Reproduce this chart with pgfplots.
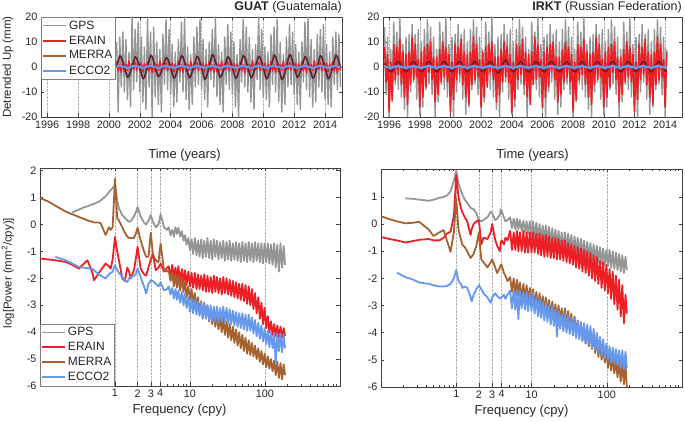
\documentclass[border=0pt]{standalone}
\usepackage{fontspec}
\setmainfont{Liberation Sans}
\usepackage{pgfplots}
\usepackage{pgfplotstable}
\pgfplotsset{compat=1.18}

\definecolor{cgps}{RGB}{148,150,150}
\definecolor{cera}{RGB}{236,32,36}
\definecolor{cmer}{RGB}{166,98,46}
\definecolor{cmerdk}{RGB}{98,32,48}
\definecolor{cecc}{RGB}{102,152,238}

% GUAT time series
\pgfplotstableread{
t gps era mer ecc
2000.5 10 2.2 0 0.2
2000.6 -18 -1.6 2.5 0.4
2000.7 12 1.0 4.5 0.5
2000.8 -8 -2.3 4.0 0.3
2000.9 14 1.5 2.0 0.1
2001.0 -10 -1.8 0 0.1
2001.1 11 1.1 -2.3 -0.2
2001.2 -13 -1.3 -4.1 -0.4
2001.3 6 2.4 -3.6 -0.3
2001.4 -16 -1.7 -1.8 0.0
2001.5 20 1.3 0 0.2
2001.6 -9 -1.0 2.3 0.4
2001.7 15 1.9 4.1 0.5
2001.8 -6 -1.5 3.6 0.3
2001.9 18 2.1 1.8 0.1
2002.0 -10 -1.4 0 0.1
2002.1 12 1.6 -2.6 -0.2
2002.2 -14 -2.0 -4.7 -0.4
2002.3 8 1.2 -4.2 -0.3
2002.4 -17 -1.1 -2.1 0.0
2002.5 20 2.2 0 0.2
2002.6 -8 -1.6 2.6 0.4
2002.7 14 1.0 4.7 0.5
2002.8 -20 -2.3 4.2 0.3
2002.9 16 1.5 2.1 0.1
2003.0 -12 -1.8 0 0.1
2003.1 10 1.1 -2.1 -0.2
2003.2 -15 -1.3 -3.8 -0.4
2003.3 7 2.4 -3.4 -0.3
2003.4 -18 -1.7 -1.7 0.0
2003.5 13 1.3 0 0.2
2003.6 -7 -1.0 2.1 0.4
2003.7 19 1.9 3.8 0.5
2003.8 -9 -1.5 3.4 0.3
2003.9 15 2.1 1.7 0.1
2004.0 -11 -1.4 0 0.1
2004.1 9 1.6 -2.5 -0.2
2004.2 -16 -2.0 -4.5 -0.4
2004.3 6 1.2 -4.0 -0.3
2004.4 -14 -1.1 -2.0 0.0
2004.5 11 2.2 0 0.2
2004.6 -6 -1.6 2.5 0.4
2004.7 18 1.0 4.5 0.5
2004.8 -10 -2.3 4.0 0.3
2004.9 20 1.5 2.0 0.1
2005.0 -13 -1.8 0 0.1
2005.1 8 1.1 -2.4 -0.2
2005.2 -17 -1.3 -4.3 -0.4
2005.3 5 2.4 -3.8 -0.3
2005.4 -15 -1.7 -1.9 0.0
2005.5 12 1.3 0 0.2
2005.6 -8 -1.0 2.4 0.4
2005.7 16 1.9 4.3 0.5
2005.8 -7 -1.5 3.8 0.3
2005.9 19 2.1 1.9 0.1
2006.0 -9 -1.4 0 0.1
2006.1 11 1.6 -2.8 -0.2
2006.2 -13 -2.0 -5.0 -0.4
2006.3 7 1.2 -4.4 -0.3
2006.4 -16 -1.1 -2.2 0.0
2006.5 10 2.2 0 0.2
2006.6 -5 -1.6 2.8 0.4
2006.7 15 1.0 5.0 0.5
2006.8 -8 -2.3 4.4 0.3
2006.9 20 1.5 2.2 0.1
2007.0 -12 -1.8 0 0.1
2007.1 9 1.1 -2.3 -0.2
2007.2 -15 -1.3 -4.1 -0.4
2007.3 6 2.4 -3.6 -0.3
2007.4 -18 -1.7 -1.8 0.0
2007.5 12 1.3 0 0.2
2007.6 -7 -1.0 2.3 0.4
2007.7 17 1.9 4.1 0.5
2007.8 -9 -1.5 3.6 0.3
2007.9 14 2.1 1.8 0.1
2008.0 -11 -1.4 0 0.1
2008.1 10 1.6 -2.5 -0.2
2008.2 -16 -2.0 -4.5 -0.4
2008.3 5 1.2 -4.0 -0.3
2008.4 -20 -1.1 -2.0 0.0
2008.5 11 2.2 0 0.2
2008.6 -6 -1.6 2.5 0.4
2008.7 19 1.0 4.5 0.5
2008.8 -8 -2.3 4.0 0.3
2008.9 16 1.5 2.0 0.1
2009.0 -10 -1.8 0 0.1
2009.1 12 1.1 -2.4 -0.2
2009.2 -14 -1.3 -4.3 -0.4
2009.3 7 2.4 -3.8 -0.3
2009.4 -17 -1.7 -1.9 0.0
2009.5 9 1.3 0 0.2
2009.6 -5 -1.0 2.4 0.4
2009.7 20 1.9 4.3 0.5
2009.8 -9 -1.5 3.8 0.3
2009.9 15 2.1 1.9 0.1
2010.0 -12 -1.4 0 0.1
2010.1 8 1.6 -2.6 -0.2
2010.2 -13 -2.0 -4.7 -0.4
2010.3 6 1.2 -4.2 -0.3
2010.4 -16 -1.1 -2.1 0.0
2010.5 13 2.2 0 0.2
2010.6 -7 -1.6 2.6 0.4
2010.7 16 1.0 4.7 0.5
2010.8 -10 -2.3 4.2 0.3
2010.9 19 1.5 2.1 0.1
2011.0 -14 -1.8 0 0.1
2011.1 10 1.1 -2.8 -0.2
2011.2 -18 -1.3 -5.0 -0.4
2011.3 5 2.4 -4.4 -0.3
2011.4 -15 -1.7 -2.2 0.0
2011.5 12 1.3 0 0.2
2011.6 -8 -1.0 2.8 0.4
2011.7 17 1.9 5.0 0.5
2011.8 -7 -1.5 4.4 0.3
2011.9 14 2.1 2.2 0.1
2012.0 -11 -1.4 0 0.1
2012.1 9 1.6 -2.3 -0.2
2012.2 -15 -2.0 -4.1 -0.4
2012.3 6 1.2 -3.6 -0.3
2012.4 -17 -1.1 -1.8 0.0
2012.5 10 2.2 0 0.2
2012.6 -6 -1.6 2.3 0.4
2012.7 18 1.0 4.1 0.5
2012.8 -9 -2.3 3.6 0.3
2012.9 20 1.5 1.8 0.1
2013.0 -12 -1.8 0 0.1
2013.1 11 1.1 -2.5 -0.2
2013.2 -16 -1.3 -4.5 -0.4
2013.3 7 2.4 -4.0 -0.3
2013.4 -14 -1.7 -2.0 0.0
2013.5 13 1.3 0 0.2
2013.6 -8 -1.0 2.5 0.4
2013.7 15 1.9 4.5 0.5
2013.8 -10 -1.5 4.0 0.3
2013.9 17 2.1 2.0 0.1
2014.0 -13 -1.4 0 0.1
2014.1 9 1.6 -2.6 -0.2
2014.2 -15 -2.0 -4.7 -0.4
2014.3 6 1.2 -4.2 -0.3
2014.4 -16 -1.1 -2.1 0.0
2014.5 12 2.2 0 0.2
2014.6 -7 -1.6 2.6 0.4
2014.7 14 1.0 4.7 0.5
2014.8 -9 -2.3 4.2 0.3
2014.9 13 1.5 2.1 0.1
2015.0 -8 -1.4 0 0.1
}\tabTL

% IRKT time series
\pgfplotstableread{
t gps era mer ecc
1995.7 16 8 1.5 0.2
1995.8 -11 -6 0.5 0.1
1995.9 12 5 -0.5 -0.1
1996.0 -20 -18 -1.5 -0.2
1996.1 7 2 -2.0 -0.3
1996.2 -14 -13 -1.5 -0.2
1996.3 18 9 -0.5 0
1996.4 -7 -5 0.8 0.2
1996.5 14 8 1.8 0.3
1996.6 -9 -3 2.2 0.3
1996.7 20 11 1.5 0.2
1996.8 -12 -7 0.5 0.1
1996.9 9 6 -0.5 -0.1
1997.0 -17 -12 -1.5 -0.2
1997.1 12 5 -2.0 -0.3
1997.2 -20 -15 -1.5 -0.2
1997.3 13 6 -0.5 0
1997.4 -10 -7 0.8 0.2
1997.5 17 12 1.8 0.3
1997.6 -6 -5 2.2 0.3
1997.7 13 9 1.5 0.2
1997.8 -13 -4 0.5 0.1
1997.9 15 3 -0.5 -0.1
1998.0 -19 -16 -1.5 -0.2
1998.1 10 6 -2.0 -0.3
1998.2 -16 -12 -1.5 -0.2
1998.3 15 8 -0.5 0
1998.4 -9 -8 0.8 0.2
1998.5 19 9 1.8 0.3
1998.6 -7 -2 2.2 0.3
1998.7 16 10 1.5 0.2
1998.8 -11 -5 0.5 0.1
1998.9 12 4 -0.5 -0.1
1999.0 -20 -14 -1.5 -0.2
1999.1 7 4 -2.0 -0.3
1999.2 -14 -11 -1.5 -0.2
1999.3 18 7 -0.5 0
1999.4 -7 -6 0.8 0.2
1999.5 14 10 1.8 0.3
1999.6 -9 -4 2.2 0.3
1999.7 20 8 1.5 0.2
1999.8 -12 -6 0.5 0.1
1999.9 9 5 -0.5 -0.1
2000.0 -17 -18 -1.5 -0.2
2000.1 12 2 -2.0 -0.3
2000.2 -20 -13 -1.5 -0.2
2000.3 13 9 -0.5 0
2000.4 -10 -5 0.8 0.2
2000.5 17 8 1.8 0.3
2000.6 -6 -3 2.2 0.3
2000.7 13 11 1.5 0.2
2000.8 -13 -7 0.5 0.1
2000.9 15 6 -0.5 -0.1
2001.0 -19 -12 -1.5 -0.2
2001.1 10 5 -2.0 -0.3
2001.2 -16 -15 -1.5 -0.2
2001.3 15 6 -0.5 0
2001.4 -9 -7 0.8 0.2
2001.5 19 12 1.8 0.3
2001.6 -7 -5 2.2 0.3
2001.7 16 9 1.5 0.2
2001.8 -11 -4 0.5 0.1
2001.9 12 3 -0.5 -0.1
2002.0 -20 -16 -1.5 -0.2
2002.1 7 6 -2.0 -0.3
2002.2 -14 -12 -1.5 -0.2
2002.3 18 8 -0.5 0
2002.4 -7 -8 0.8 0.2
2002.5 14 9 1.8 0.3
2002.6 -9 -2 2.2 0.3
2002.7 20 10 1.5 0.2
2002.8 -12 -5 0.5 0.1
2002.9 9 4 -0.5 -0.1
2003.0 -17 -14 -1.8 -0.2
2003.1 12 4 -2.5 -0.3
2003.2 -20 -11 -1.8 -0.2
2003.3 13 7 -0.5 0
2003.4 -10 -6 1.0 0.2
2003.5 17 10 2.3 0.3
2003.6 -6 -4 2.8 0.3
2003.7 13 8 1.8 0.2
2003.8 -13 -6 0.5 0.1
2003.9 15 5 -0.5 -0.1
2004.0 -19 -18 -1.5 -0.2
2004.1 10 2 -2.0 -0.3
2004.2 -16 -13 -1.5 -0.2
2004.3 15 9 -0.5 0
2004.4 -9 -5 0.8 0.2
2004.5 19 8 1.8 0.3
2004.6 -7 -3 2.2 0.3
2004.7 16 11 1.5 0.2
2004.8 -11 -7 0.5 0.1
2004.9 12 6 -0.5 -0.1
2005.0 -20 -12 -1.5 -0.2
2005.1 7 5 -2.0 -0.3
2005.2 -14 -15 -1.5 -0.2
2005.3 18 6 -0.5 0
2005.4 -7 -7 0.8 0.2
2005.5 14 12 1.8 0.3
2005.6 -9 -5 2.2 0.3
2005.7 20 9 1.5 0.2
2005.8 -12 -4 0.5 0.1
2005.9 9 3 -0.5 -0.1
2006.0 -17 -16 -1.5 -0.2
2006.1 12 6 -2.0 -0.3
2006.2 -20 -12 -1.5 -0.2
2006.3 13 8 -0.5 0
2006.4 -10 -8 0.8 0.2
2006.5 17 9 1.8 0.3
2006.6 -6 -2 2.2 0.3
2006.7 13 10 1.5 0.2
2006.8 -13 -5 0.5 0.1
2006.9 15 4 -0.5 -0.1
2007.0 -19 -14 -1.5 -0.2
2007.1 10 4 -2.0 -0.3
2007.2 -16 -11 -1.5 -0.2
2007.3 15 7 -0.5 0
2007.4 -9 -6 0.8 0.2
2007.5 19 10 1.8 0.3
2007.6 -7 -4 2.2 0.3
2007.7 16 8 1.5 0.2
2007.8 -11 -6 0.5 0.1
2007.9 12 5 -0.5 -0.1
2008.0 -20 -18 -1.5 -0.2
2008.1 7 2 -2.0 -0.3
2008.2 -14 -13 -1.5 -0.2
2008.3 18 9 -0.5 0
2008.4 -7 -5 0.8 0.2
2008.5 14 8 1.8 0.3
2008.6 -9 -3 2.2 0.3
2008.7 20 11 1.5 0.2
2008.8 -12 -7 0.5 0.1
2008.9 9 6 -0.5 -0.1
2009.0 -17 -12 -1.5 -0.2
2009.1 12 5 -2.0 -0.3
2009.2 -20 -15 -1.5 -0.2
2009.3 13 6 -0.5 0
2009.4 -10 -7 0.8 0.2
2009.5 17 12 1.8 0.3
2009.6 -6 -5 2.2 0.3
2009.7 13 9 1.5 0.2
2009.8 -13 -4 0.5 0.1
2009.9 15 3 -0.5 -0.1
2010.0 -19 -16 -1.5 -0.2
2010.1 10 6 -2.0 -0.3
2010.2 -16 -12 -1.5 -0.2
2010.3 15 8 -0.5 0
2010.4 -9 -8 0.8 0.2
2010.5 19 9 1.8 0.3
2010.6 -7 -2 2.2 0.3
2010.7 16 10 1.5 0.2
2010.8 -11 -5 0.5 0.1
2010.9 12 4 -0.5 -0.1
2011.0 -20 -14 -1.5 -0.2
2011.1 7 4 -2.0 -0.3
2011.2 -14 -11 -1.5 -0.2
2011.3 18 7 -0.5 0
2011.4 -7 -6 0.8 0.2
2011.5 14 10 1.8 0.3
2011.6 -9 -4 2.2 0.3
2011.7 20 8 1.5 0.2
2011.8 -12 -6 0.5 0.1
2011.9 9 5 -0.5 -0.1
2012.0 -17 -18 -1.5 -0.2
2012.1 12 2 -2.0 -0.3
2012.2 -20 -13 -1.5 -0.2
2012.3 13 9 -0.5 0
2012.4 -10 -5 0.8 0.2
2012.5 17 8 1.8 0.3
2012.6 -6 -3 2.2 0.3
2012.7 13 11 1.5 0.2
2012.8 -13 -7 0.5 0.1
2012.9 15 6 -0.5 -0.1
2013.0 -19 -12 -1.5 -0.2
2013.1 10 5 -2.0 -0.3
2013.2 -16 -15 -1.5 -0.2
2013.3 15 6 -0.5 0
2013.4 -9 -7 0.8 0.2
2013.5 19 12 1.8 0.3
2013.6 -7 -5 2.2 0.3
2013.7 16 9 1.5 0.2
2013.8 -11 -4 0.5 0.1
2013.9 12 3 -0.5 -0.1
2014.0 -20 -16 -1.5 -0.2
2014.1 7 6 -2.0 -0.3
}\tabTR

% GUAT spectra
\pgfplotstableread{
f gps era mer ecc
0.097 nan -1.26 1.0 nan
0.13 nan -1.30 0.85 nan
0.16 nan -1.33 0.7 -1.2
0.22 nan -1.39 0.48 -1.33
0.27 0.45 -1.5 0.38 -1.45
0.33 0.55 -1.64 0.28 -1.58
0.37 0.62 -1.5 0.23 -1.6
0.43 0.68 -1.33 0.15 -1.62
0.5 0.75 -1.8 0.1 -1.65
0.525 0.77 -2.07 0.08 -1.7
0.61 0.85 -1.8 0.07 -1.85
0.645 0.9 -1.7 0.05 -1.9
0.75 1.05 -1.45 -0.39 -2.0
0.83 1.2 -1.55 -0.1 -1.85
0.876 1.28 -1.64 -0.2 -1.8
0.93 1.35 -1.3 -0.1 -1.75
1.0 1.48 -0.46 1.7 -1.51
1.07 0.9 -1.0 0.24 -1.7
1.13 0.6 -1.33 0.15 -1.8
1.25 0.35 -2.0 -0.1 -1.95
1.35 0.25 -2.1 -0.3 -2.05
1.46 0.15 -1.6 -0.45 -2.14
1.54 0.1 -1.75 -0.5 -2.0
1.62 0.12 -2.0 -0.5 -1.95
1.79 0.3 -1.7 -0.5 -1.9
1.89 0.45 -1.3 -0.35 -1.85
2.0 0.65 -0.83 -0.12 -1.64
2.2 0.3 -1.64 -0.6 -1.95
2.44 0.07 -1.85 -1.0 -2.3
2.6 0.0 -1.9 -1.2 -2.57
2.8 0.15 -1.6 -1.2 -2.2
3.0 0.35 -1.3 -0.3 -2.07
3.2 0.1 -1.1 -1.1 -2.1
3.5 -0.1 -1.7 -1.33 -2.2
3.8 0.0 -1.6 -1.4 -2.3
4.06 0.38 -1.45 -0.7 -2.15
4.5 -0.1 -1.75 -1.7 -2.45
4.97 -0.2 -1.6 -1.75 -2.4
5.2 -0.1 -1.55 -1.7 -2.3
5.5 -0.4 -1.95 -2.1 -2.6
5.8 -0.2 -1.5 -1.8 -2.35
6.1 -0.45 -2.0 -2.3 -2.75
6.4 -0.1 -1.6 -1.85 -2.4
6.7 -0.35 -2.05 -2.35 -2.8
7.0 -0.12 -1.55 -1.9 -2.45
7.4 -0.45 -2.1 -2.45 -2.9
7.8 -0.25 -1.65 -2.0 -2.5
8.2 -0.6 -2.15 -2.5 -3.0
8.6 -0.4 -1.7 -2.1 -2.55
9.0 -0.75 -2.25 -2.7 -3.1
9.5 -0.5 -1.75 -2.3 -2.7
10 -0.95 -2.3 -2.8 -3.25
10.5 -0.55 -1.8 -2.4 -2.75
11 -1.1 -2.35 -2.9 -3.3
11.6 -0.5 -1.8 -2.55 -2.8
12.2 -1.15 -2.4 -3.1 -3.35
12.8 -0.6 -1.85 -2.7 -2.85
13.4 -1.2 -2.4 -3.3 -3.4
14.1 -0.55 -1.9 -2.85 -2.9
14.8 -1.25 -2.45 -3.5 -3.45
15.5 -0.6 -1.85 -2.9 -2.95
16.3 -1.2 -2.5 -3.45 -3.5
17.1 -0.5 -1.9 -3.0 -3.0
18 -1.25 -2.5 -3.6 -3.55
18.9 -0.6 -1.95 -3.1 -3.0
19.8 -1.3 -2.55 -3.7 -3.6
20.8 -0.55 -1.9 -3.2 -3.05
21.8 -1.2 -2.5 -3.8 -3.6
22.9 -0.6 -1.95 -3.3 -3.05
24 -1.3 -2.55 -3.9 -3.65
25.2 -0.65 -2.0 -3.4 -3.1
26.5 -1.25 -2.6 -4.0 -3.6
27.8 -0.6 -1.95 -3.5 -3.05
29.2 -1.35 -2.55 -4.1 -3.65
30.7 -0.65 -2.0 -3.6 -3.1
32.2 -1.3 -2.6 -4.2 -3.7
33.8 -0.6 -2.05 -3.7 -3.15
35.5 -1.35 -2.65 -4.3 -3.7
37.3 -0.7 -2.1 -3.8 -3.2
39.1 -1.3 -2.7 -4.4 -3.75
41.1 -0.65 -2.15 -3.9 -3.25
43.1 -1.35 -2.75 -4.5 -3.8
45.3 -0.7 -2.2 -4.0 -3.3
47.5 -1.4 -2.8 -4.6 -3.85
49.9 -0.65 -2.2 -4.1 -3.3
52.4 -1.35 -2.85 -4.7 -3.9
55 -0.7 -2.25 -4.2 -3.35
57.8 -1.4 -2.95 -4.8 -3.95
60.7 -0.65 -2.3 -4.3 -3.35
63.7 -1.35 -3.0 -4.85 -3.95
66.9 -0.7 -2.4 -4.4 -3.45
70.2 -1.4 -3.15 -4.9 -4.05
73.7 -0.65 -2.55 -4.5 -3.55
77.4 -1.35 -3.3 -5.0 -4.15
81.3 -0.7 -2.7 -4.6 -3.65
85.4 -1.4 -3.5 -5.1 -4.25
89.6 -0.7 -2.9 -4.7 -3.75
94.1 -1.45 -3.7 -5.2 -4.35
98.8 -0.7 -3.1 -4.8 -3.85
103.8 -1.4 -3.85 -5.3 -4.45
109 -0.7 -3.4 -4.9 -3.95
114.4 -1.45 -4.0 -5.35 -4.55
120.1 -0.75 -3.6 -5.0 -4.0
126.1 -1.5 -4.1 -5.45 -4.6
132.4 -0.7 -3.7 -5.05 -4.05
139 -1.6 -4.15 -5.6 -5.2
146 -0.75 -3.75 -5.1 -4.05
153.3 -1.75 -4.2 -5.7 -4.7
161 -0.7 -3.8 -5.15 -4.05
169 -1.6 -4.2 -5.75 -4.75
177.5 -0.8 -3.85 -5.2 -4.1
185 -1.5 -4.15 -5.6 -4.6
}\tabBL

% IRKT spectra
\pgfplotstableread{
f gps era mer ecc
0.089 nan -0.44 0.34 nan
0.13 nan -0.55 0.18 nan
0.163 nan -0.6 0.1 -1.79
0.211 0.95 -0.68 0.03 -1.95
0.27 0.93 -0.62 0.05 -2.05
0.32 0.9 -0.58 0.09 -2.15
0.43 0.86 -0.55 -0.2 -2.2
0.5 0.9 -0.6 -0.44 -2.25
0.6 0.97 -0.6 -0.3 -2.3
0.68 1.0 -0.5 -0.22 -2.3
0.75 1.05 -0.35 -0.6 -2.28
0.84 1.2 -0.28 -1.02 -2.2
0.93 1.6 0.3 -0.3 -2.0
1.0 1.97 1.81 0.95 -1.69
1.07 1.5 1.0 -0.2 -2.1
1.15 1.26 0.6 -0.55 -2.2
1.2 1.1 0.45 -0.75 -2.35
1.3 0.9 0.25 -0.85 -2.3
1.4 0.78 0.09 -1.0 -2.35
1.55 0.6 -0.4 -1.25 -2.68
1.6 0.58 -0.2 -1.2 -2.85
1.7 0.55 0.0 -1.1 -2.6
1.85 0.4 0.1 -0.8 -2.4
2.0 0.15 0.15 -0.3 -2.25
2.15 0.1 -0.75 -1.3 -2.4
2.3 0.15 -0.5 -1.4 -2.55
2.6 0.25 -0.55 -1.6 -2.7
2.87 0.46 -0.3 -1.4 -2.9
3.0 0.4 0.0 -1.3 -2.7
3.3 0.15 -0.6 -1.6 -2.55
3.5 0.2 -0.8 -1.8 -2.65
3.8 0.35 -1.0 -1.6 -2.75
3.9 0.55 -0.7 -1.5 -2.7
4.0 0.5 -0.6 -1.5 -2.7
4.3 0.25 -0.75 -1.8 -2.6
4.5 0.1 -0.5 -1.9 -2.75
4.8 0.15 -0.6 -2.1 -2.6
5.2 0.25 -0.25 -1.95 -2.45
5.5 -0.15 -0.95 -2.5 -3.1
5.8 0.2 -0.3 -2.0 -2.45
6.1 -0.2 -0.95 -2.6 -3.15
6.4 0.2 -0.25 -2.05 -2.45
6.7 -0.2 -1.0 -2.65 -3.5
7.0 0.15 -0.3 -2.15 -2.45
7.4 -0.25 -1.0 -2.75 -3.1
7.8 0.12 -0.25 -2.2 -2.5
8.2 -0.3 -1.05 -2.8 -3.15
8.6 0.1 -0.3 -2.25 -2.5
9.0 -0.35 -1.05 -2.85 -3.2
9.5 0.1 -0.3 -2.35 -2.55
10 -0.45 -1.05 -2.95 -3.2
10.5 0.1 -0.3 -2.4 -2.55
11 -0.5 -1.05 -3.0 -3.3
11.6 0.05 -0.35 -2.5 -2.7
12.2 -0.55 -1.1 -3.1 -3.4
12.8 0.0 -0.35 -2.55 -2.75
13.4 -0.6 -1.15 -3.15 -3.45
14.1 -0.05 -0.4 -2.65 -2.85
14.8 -0.65 -1.2 -3.25 -3.55
15.5 -0.05 -0.4 -2.7 -2.9
16.3 -0.7 -1.2 -3.3 -3.6
17.1 -0.1 -0.45 -2.8 -3.0
18 -0.75 -1.25 -3.4 -3.7
18.9 -0.15 -0.5 -2.85 -3.05
19.8 -0.8 -1.25 -3.45 -3.75
20.8 -0.2 -0.5 -2.95 -3.15
21.8 -0.85 -1.3 -3.55 -4.15
22.9 -0.25 -0.55 -3.0 -3.2
24 -0.9 -1.3 -3.6 -3.85
25.2 -0.3 -0.6 -3.1 -3.3
26.5 -0.95 -1.35 -3.7 -3.95
27.8 -0.3 -0.6 -3.1 -3.3
29.2 -0.95 -1.4 -3.75 -4.0
30.7 -0.35 -0.7 -3.2 -3.4
32.2 -1.0 -1.45 -3.85 -4.05
33.8 -0.4 -0.75 -3.3 -3.45
35.5 -1.05 -1.5 -3.95 -4.1
37.3 -0.45 -0.8 -3.4 -3.5
39.1 -1.1 -1.6 -4.05 -4.2
41.1 -0.5 -0.85 -3.55 -3.55
43.1 -1.15 -1.65 -4.15 -4.25
45.3 -0.55 -0.9 -3.65 -3.6
47.5 -1.2 -1.75 -4.3 -4.3
49.9 -0.6 -0.95 -3.75 -3.65
52.4 -1.25 -1.8 -4.4 -4.4
55 -0.65 -1.0 -3.85 -3.7
57.8 -1.3 -1.9 -4.5 -4.45
60.7 -0.7 -1.05 -3.95 -3.75
63.7 -1.35 -2.0 -4.6 -4.55
66.9 -0.75 -1.15 -4.1 -3.85
70.2 -1.4 -2.1 -4.75 -4.65
73.7 -0.8 -1.2 -4.2 -4.0
77.4 -1.4 -2.2 -4.9 -4.75
81.3 -0.85 -1.35 -4.35 -4.15
85.4 -1.45 -2.35 -5.0 -4.85
89.6 -0.9 -1.4 -4.5 -4.25
94.1 -1.5 -2.45 -5.1 -4.95
98.8 -0.95 -1.5 -4.65 -4.4
103.8 -1.55 -2.55 -5.3 -5.0
109 -0.95 -1.65 -4.75 -4.5
114.4 -1.6 -2.75 -5.4 -5.1
120.1 -1.0 -1.75 -4.85 -4.55
126.1 -1.65 -2.95 -5.5 -5.15
132.4 -1.05 -1.9 -4.95 -4.6
139 -1.7 -3.15 -5.65 -5.2
146 -1.1 -2.05 -5.05 -4.65
153.3 -1.75 -3.4 -5.8 -5.3
161 -1.15 -2.25 -5.1 -4.65
169 -1.8 -3.65 -5.9 -5.35
177.5 -1.2 -2.6 -5.2 -4.7
185 -1.7 -3.3 -6.0 -5.3
}\tabBR

\pgfplotsset{
  panel/.style={
    scale only axis, anchor=south west,
    axis line style={black!75}, tick align=inside,
    xtick pos=both, ytick pos=both,
    tick style={black!75, line width=0.4pt},
    major tick length=3.5pt, minor tick length=2pt,
    tick label style={font=\fontsize{10.8}{12}\selectfont, text=black!85},
    /pgf/number format/assume math mode=true,
    grid style={densely dotted, black!30, line width=0.4pt},
    xmajorgrids,
    xlabel style={font=\fontsize{13}{15}\selectfont, text=black!85},
    ylabel style={font=\fontsize{11.5}{13}\selectfont, text=black!85},
    legend cell align=left,
    legend image code/.code={\draw[##1] (0pt,0pt) -- (23pt,0pt);},
    legend style={draw=black!50, fill=white, line width=0.4pt,
      font=\fontsize{12}{13}\selectfont, text=black!85,
      inner xsep=1pt, inner ysep=1.5pt, row sep=1.2pt},
  },
  timepanel/.style={panel, height=100pt,
    xmin=1995.6, xmax=2015.1, ymin=-20, ymax=20,
    xtick={1996,1998,...,2014}, ytick={-20,-10,0,10,20},
    xticklabel style={/pgf/number format/.cd, 1000 sep={}},
  },
  specpanel/.style={panel, height=218pt,
    xmin=0.1, xmax=1000, ymin=-6,
    xtick={1,2,3,4,10,100}, xticklabels={1,2,3,4,10,100},
    minor xtick={0.2,0.3,0.4,0.5,0.6,0.7,0.8,0.9,5,6,7,8,9,20,30,40,50,60,70,80,90,200,300,400,500,600,700,800,900},
  },
}

\begin{document}
\begin{tikzpicture}
\path[use as bounding box] (0,0) rectangle (685pt,422pt);

% top left: GUAT
\begin{axis}[timepanel, at={(41pt,305pt)}, width=301pt,
  extra description/.code={\node[anchor=base east, inner sep=0pt, font=\fontsize{12.5}{14}\selectfont, text=black!85] at (1,1.06) {\textbf{GUAT} (Guatemala)};},
  xlabel={Time (years)}, ylabel={Detrended Up (mm)},
  xlabel style={at={(axis description cs:0.477,-0.38)}, anchor=center},
  ylabel style={at={(axis description cs:-0.11,0.5)}, anchor=center},
  legend style={at={(0,1)}, anchor=north west}]
\addplot[cgps, line width=1.4pt, line join=round, forget plot] table[x=t, y=gps] {\tabTL};
\addplot[cera, line width=1.4pt, line join=round, forget plot] table[x=t, y=era] {\tabTL};
\addplot[cmerdk, line width=1.6pt, line join=round, forget plot] table[x=t, y=mer] {\tabTL};
\addplot[cecc, line width=2.2pt, line join=round, forget plot] table[x=t, y=ecc] {\tabTL};
\addlegendimage{cgps, line width=1.0pt}
\addlegendimage{cera, line width=1.8pt}
\addlegendimage{cmer, line width=1.8pt}
\addlegendimage{cecc, line width=1.8pt}
\legend{GPS,ERAIN,MERRA,ECCO2}
\end{axis}

% top right: IRKT
\begin{axis}[timepanel, at={(383pt,305pt)}, width=299pt,
  extra description/.code={\node[anchor=base east, inner sep=0pt, font=\fontsize{12.5}{14}\selectfont, text=black!85] at (1,1.06) {\textbf{IRKT} (Russian Federation)};},
  xlabel={Time (years)},
  xlabel style={at={(axis description cs:0.50,-0.38)}, anchor=center}]
\addplot[cgps, line width=1.4pt, line join=round] table[x=t, y=gps] {\tabTR};
\addplot[cera, line width=1.6pt, line join=round] table[x=t, y=era] {\tabTR};
\addplot[cmerdk, line width=1.6pt, line join=round] table[x=t, y=mer] {\tabTR};
\addplot[cecc, line width=2.4pt, line join=round] table[x=t, y=ecc] {\tabTR};
\end{axis}

% bottom left: GUAT spectra
\begin{axis}[xmode=log, specpanel, at={(40pt,36pt)}, width=300pt, ymax=2.1,
  ytick={-6,-5,-4,-3,-2,-1,0,1,2},
  xlabel={Frequency (cpy)}, ylabel={log[Power (mm\textsuperscript{2}/cpy)]},
  xlabel style={at={(axis description cs:0.465,-0.11)}, anchor=center},
  ylabel style={at={(axis description cs:-0.107,0.518)}, anchor=center},
  legend style={at={(0,0)}, anchor=south west}]
\addplot[cgps, line width=1.8pt, line join=round, forget plot] table[x=f, y=gps] {\tabBL};
\addplot[cera, line width=1.8pt, line join=round, forget plot] table[x=f, y=era] {\tabBL};
\addplot[cmer, line width=1.8pt, line join=round, forget plot] table[x=f, y=mer] {\tabBL};
\addplot[cecc, line width=1.8pt, line join=round, forget plot] table[x=f, y=ecc] {\tabBL};
\addlegendimage{cgps, line width=1.0pt}
\addlegendimage{cera, line width=1.8pt}
\addlegendimage{cmer, line width=1.8pt}
\addlegendimage{cecc, line width=1.8pt}
\legend{GPS,ERAIN,MERRA,ECCO2}
\end{axis}

% bottom right: IRKT spectra
\begin{axis}[xmode=log, specpanel, at={(381pt,35pt)}, width=301pt, ymax=2.03,
  ytick={-6,-5,-4,-3,-2,-1,0,1},
  xlabel={Frequency (cpy)},
  xlabel style={at={(axis description cs:0.467,-0.11)}, anchor=center}]
\addplot[cgps, line width=1.8pt, line join=round] table[x=f, y=gps] {\tabBR};
\addplot[cera, line width=1.8pt, line join=round] table[x=f, y=era] {\tabBR};
\addplot[cmer, line width=1.8pt, line join=round] table[x=f, y=mer] {\tabBR};
\addplot[cecc, line width=1.8pt, line join=round] table[x=f, y=ecc] {\tabBR};
\end{axis}
\end{tikzpicture}
\end{document}
